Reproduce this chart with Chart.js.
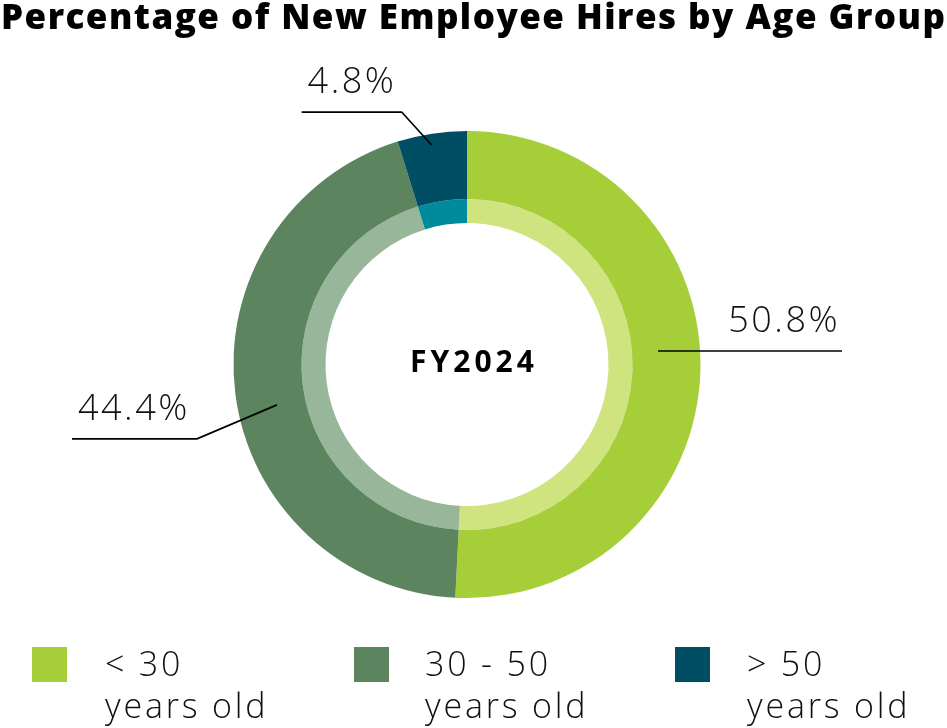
<!DOCTYPE html>
<html>
<head>
<meta charset="utf-8">
<script src="https://cdn.jsdelivr.net/npm/chart.js@4.4.1/dist/chart.umd.min.js"></script>
<style>
  html, body { margin: 0; padding: 0; background: #fff; }
  body { width: 947px; height: 728px; overflow: hidden; font-family: 'Open Sans', sans-serif; color: #111; }
  #wrap { position: relative; width: 947px; height: 728px; }
  #chart { position: absolute; left: 0; top: 0; }
  #title { position: absolute; left: 1px; top: -4px; font-weight: 800; font-size: 35px; line-height: 40px; white-space: nowrap; color: #000; }
  .box { position: absolute; width: 35px; height: 35px; }
  .txt { position: absolute; font-size: 34px; line-height: 42px; font-weight: 350; letter-spacing: 2.8px; white-space: nowrap; color: #111; }
</style>
</head>
<body>
<div id="wrap">
  <canvas id="chart" width="947" height="728"></canvas>
  <div id="title"></div>
</div>
<script>
// ---- data ----
const titleText = 'Percentage of New Employee Hires by Age Group';
const centerLabel = 'FY2024';
const categories = ['< 30', '30 - 50', '> 50'];
const categorySub = ['years old', 'years old', 'years old'];
const values = [50.8, 44.4, 4.8];
const outerColors = ['#a6ce39', '#5b845f', '#004e63'];
const innerColors = ['#cfe47e', '#98b69a', '#008b9d'];

// ---- layout (style only) ----
const legendBoxX = [32, 354, 675];
const legendTextX = [105, 425, 747];
const leaders = [
  { rf: 0.82,  elbow: [0, 0],    len: 184, dir: 1,  align: 'right', tx: -4 },
  { rf: 0.832, elbow: [-80, 34], len: 125, dir: -1, align: 'left',  tx: 6 },
  { rf: 0.952, elbow: [-30, -33], len: 100, dir: -1, align: 'left', tx: 6 }
];

// title
const titleEl = document.getElementById('title');
titleEl.textContent = titleText;
const tw = titleEl.getBoundingClientRect().width;
titleEl.style.letterSpacing = ((944 - tw) / (titleText.length - 1)) + 'px';

// legend
const wrap = document.getElementById('wrap');
categories.forEach((c, i) => {
  const b = document.createElement('div');
  b.className = 'box';
  b.style.left = legendBoxX[i] + 'px';
  b.style.top = '647px';
  b.style.background = outerColors[i];
  wrap.appendChild(b);
  const t = document.createElement('div');
  t.className = 'txt';
  t.style.left = legendTextX[i] + 'px';
  t.style.top = '642px';
  const l1 = document.createElement('div'); l1.textContent = c;
  const l2 = document.createElement('div'); l2.textContent = categorySub[i];
  t.appendChild(l1); t.appendChild(l2);
  wrap.appendChild(t);
});

const labelPlugin = {
  id: 'labelPlugin',
  afterDraw(chart) {
    const ctx = chart.ctx;
    const meta = chart.getDatasetMeta(0);
    ctx.save();
    meta.data.forEach((arc, i) => {
      const p = arc.getProps(['x', 'y', 'startAngle', 'endAngle', 'outerRadius'], true);
      const L = leaders[i];
      const a = p.startAngle + (p.endAngle - p.startAngle) * 0.47;
      const px = p.x + Math.cos(a) * p.outerRadius * L.rf;
      const py = p.y + Math.sin(a) * p.outerRadius * L.rf;
      const ex = px + L.elbow[0], ey = py + L.elbow[1];
      const fx = ex + L.dir * L.len;
      ctx.beginPath();
      ctx.moveTo(px, py);
      ctx.lineTo(ex, ey);
      ctx.lineTo(fx, ey);
      ctx.strokeStyle = '#000';
      ctx.lineWidth = 1.7;
      ctx.stroke();
      ctx.font = '350 36px "Open Sans"';
      try { ctx.letterSpacing = '2.5px'; } catch (e) {}
      ctx.fillStyle = '#111';
      ctx.textAlign = L.align;
      ctx.textBaseline = 'alphabetic';
      ctx.fillText(values[i].toFixed(1) + '%', fx + L.tx + (L.align === 'right' ? 2 : 0), ey - 19);
    });
    const c = meta.data[0].getProps(['x', 'y'], true);
    ctx.font = 'bold 30px "Open Sans"';
    try { ctx.letterSpacing = '4px'; } catch (e) {}
    ctx.fillStyle = '#000';
    ctx.textAlign = 'center';
    ctx.fillText(centerLabel, c.x + 7, c.y + 7);
    ctx.restore();
  }
};

new Chart(document.getElementById('chart'), {
  type: 'doughnut',
  data: {
    labels: categories,
    datasets: [
      { data: values, backgroundColor: outerColors, borderWidth: 0, weight: 68, hoverOffset: 0 },
      { data: values, backgroundColor: innerColors, borderWidth: 0, weight: 24, hoverOffset: 0 }
    ]
  },
  options: {
    responsive: false,
    animation: false,
    cutout: 141.5,
    layout: { padding: { left: 233, right: 246, top: 131, bottom: 130 } },
    plugins: { legend: { display: false }, title: { display: false }, tooltip: { enabled: false } },
    events: []
  },
  plugins: [labelPlugin]
});
</script>
</body>
</html>
